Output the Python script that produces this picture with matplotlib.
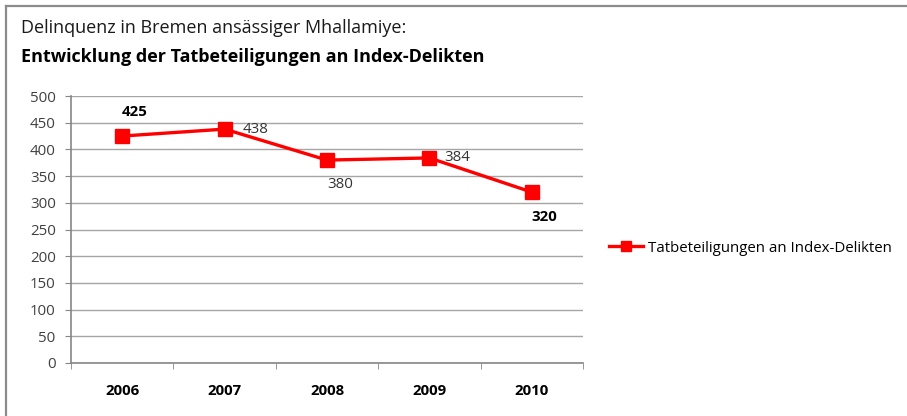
import matplotlib
matplotlib.use("Agg")
import matplotlib.pyplot as plt
import numpy as np
from matplotlib.lines import Line2D

years  = ["2006", "2007", "2008", "2009", "2010"]
values = [425, 438, 380, 384, 320]
# label placement per point: (dx px, dy px, bold)
label_pos = [(0, 24, True),
             (18, 0, False),
             (0, -24, False),
             (15, 0, False),
             (0, -25, True)]
yticks = [0, 50, 100, 150, 200, 250, 300, 350, 400, 450, 500]
series_name = "Tatbeteiligungen an Index-Delikten"

plt.rcParams["font.family"] = ["Open Sans", "DejaVu Sans"]

W, H = 907, 416
fig = plt.figure(figsize=(W / 100, H / 100), dpi=100)

# frame around the chart (left and top edges)
fig.add_artist(Line2D([6 / W, 6 / W], [0, 1 - 6 / H], color="#8c8c8c", lw=1.6))
fig.add_artist(Line2D([6 / W, 1], [1 - 6 / H, 1 - 6 / H], color="#8c8c8c", lw=1.6))

fig.text(21 / W, 1 - 28 / H, "Delinquenz in Bremen ansässiger Mhallamiye:",
         fontsize=13.0, va="center", ha="left", color="#1a1a1a")
fig.text(21 / W, 1 - 57 / H, "Entwicklung der Tatbeteiligungen an Index-Delikten",
         fontsize=12.95, fontweight="bold", va="center", ha="left", color="#000000")

ax = fig.add_axes([71 / W, 53 / H, 512 / W, 267 / H])
x = np.arange(len(years))
ax.plot(x, values, color="#ff0000", lw=2.4, marker="s", markersize=9.5,
        label=series_name, zorder=3)

for xi, v, (dx, dy, bold) in zip(x, values, label_pos):
    ax.annotate(str(v), (xi, v), xytext=(dx * 0.72, dy * 0.72), textcoords="offset points",
                ha="left", va="center", fontsize=10.8, fontweight="bold" if bold else "normal",
                color="#000000" if bold else "#333333")

ax.set_xlim(-0.5, len(years) - 0.5)
ax.set_ylim(0, 500)
ax.set_yticks(yticks)
ax.yaxis.grid(True, color="#a6a6a6", lw=1.0)
ax.set_axisbelow(True)
ax.tick_params(axis="y", direction="out", length=4, color="#868686",
               labelsize=10.8, labelcolor="#404040", pad=7)

ax.set_xticks(x)
ax.set_xticklabels(years, fontweight="bold", fontsize=10.8)
ax.set_xticks(np.arange(-0.5, len(years)), minor=True)
ax.tick_params(axis="x", which="major", length=0, pad=15)
ax.tick_params(axis="x", which="minor", direction="out", length=4, color="#868686")

for s in ["top", "right"]:
    ax.spines[s].set_visible(False)
for s in ["left", "bottom"]:
    ax.spines[s].set_color("#868686")
    ax.spines[s].set_linewidth(1.2)

fig.legend(loc="center left", bbox_to_anchor=(595 / W, 1 - 248 / H), frameon=False,
           fontsize=10.8, handlelength=2.3, handletextpad=0.3, markerscale=0.8)

fig.savefig("out.png", dpi=100)
